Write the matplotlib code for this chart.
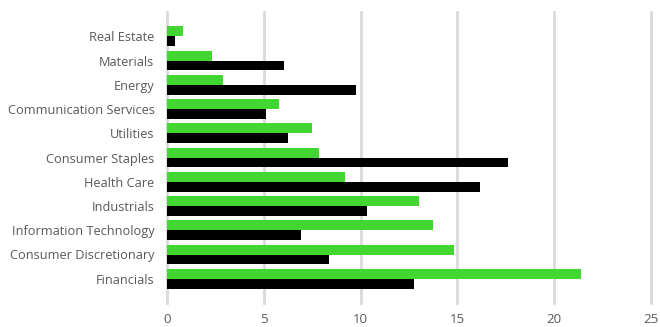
import matplotlib
matplotlib.use("Agg")
import matplotlib.pyplot as plt
import numpy as np

categories = ["Real Estate", "Materials", "Energy", "Communication Services", "Utilities",
              "Consumer Staples", "Health Care", "Industrials", "Information Technology",
              "Consumer Discretionary", "Financials"]
green_values = [0.83, 2.3, 2.9, 5.77, 7.49, 7.84, 9.2, 13.02, 13.73, 14.83, 21.41]
black_values = [0.4, 6.05, 9.75, 5.12, 6.24, 17.6, 16.18, 10.32, 6.93, 8.37, 12.78]
x_ticks = [0, 5, 10, 15, 20, 25]

plt.rcParams['font.family'] = ['Open Sans', 'DejaVu Sans']

fig = plt.figure(figsize=(6.6, 3.27), dpi=100)
ax = fig.add_axes([167/660, 1-303/327, (651-167)/660, (303-12)/327])

y = np.arange(len(categories))
h = 0.41
ax.barh(y - h/2, green_values, height=h, color='#41d631', zorder=3)
ax.barh(y + h/2, black_values, height=h, color='#000000', zorder=3)

ax.set_xlim(0, 25)
ax.set_ylim(len(categories) - 0.0, -1.0)
ax.set_yticks(y)
ax.set_yticklabels(categories, fontsize=9.2)
ax.set_xticks(x_ticks)
ax.set_xticklabels([str(t) for t in x_ticks], fontsize=9.5)
for s in ax.spines.values():
    s.set_visible(False)
ax.grid(axis='x', color='#d9d9d9', linewidth=2, zorder=0)
ax.tick_params(axis='both', length=0, colors='#595959')
ax.tick_params(axis='x', pad=7.5)
ax.tick_params(axis='y', pad=9)
for g in ax.get_xgridlines():
    g.set_clip_on(False)

fig.savefig("out.png", dpi=100)
